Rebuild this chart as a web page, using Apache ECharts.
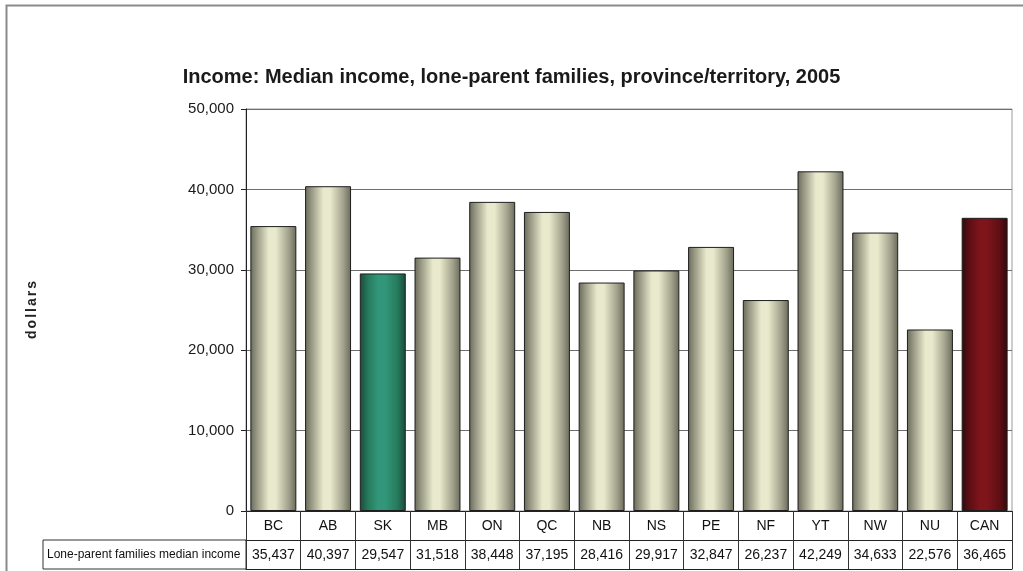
<!DOCTYPE html>
<html>
<head>
<meta charset="utf-8">
<style>
  html, body { margin: 0; padding: 0; background: #ffffff; }
  #chart { width: 1023px; height: 571px; }
</style>
<script src="https://cdn.jsdelivr.net/npm/echarts@6/dist/echarts.min.js"></script>
</head>
<body>
<div id="chart"></div>
<script>
// Provinces / territories and Canada
const categories = ['BC', 'AB', 'SK', 'MB', 'ON', 'QC', 'NB', 'NS', 'PE', 'NF', 'YT', 'NW', 'NU', 'CAN'];
// Lone-parent families median income, 2005 (dollars)
const medianIncome = [35437, 40397, 29547, 31518, 38448, 37195, 28416, 29917, 32847, 26237, 42249, 34633, 22576, 36465];
const yTicks = [0, 10000, 20000, 30000, 40000, 50000];
const seriesName = 'Lone-parent families median income';
const axisTitle = 'dollars';
const highlight = { SK: 'green', CAN: 'red' };

const SANS = "'Liberation Sans', Arial, sans-serif";

function fmt(v) { return v.toLocaleString('en-US'); }

// horizontal shading that gives the bars a rounded, cylinder-like look
function cylinder(edge, mid, light) {
  return new echarts.graphic.LinearGradient(0, 0, 1, 0, [
    { offset: 0, color: edge },
    { offset: 0.18, color: mid },
    { offset: 0.4, color: light },
    { offset: 0.55, color: light },
    { offset: 0.82, color: mid },
    { offset: 1, color: edge }
  ]);
}
const fills = {
  base: cylinder('#6a6a5b', '#a5a58f', '#e9e9cd'),
  green: cylinder('#1a4a39', '#267a5c', '#32977a'),
  red: cylinder('#33090b', '#5e0f14', '#7e151b')
};

// spaced-out lettering for the vertical axis title
const spacedTitle = axisTitle.split('').map(ch => '{s|' + ch + '}').join('');

const chart = echarts.init(document.getElementById('chart'), null, { renderer: 'canvas' });

const gridLeft = 246, gridRight = 11, gridTop = 109, gridBottom = 60;
const rowH = 29;

chart.setOption({
  animation: false,
  backgroundColor: '#ffffff',
  title: {
    text: 'Income: Median income, lone-parent families, province/territory, 2005',
    left: 'center',
    top: 62,
    textStyle: { fontFamily: SANS, fontSize: 20, fontWeight: 'bold', color: '#1a1a1a' }
  },
  grid: {
    left: gridLeft, right: gridRight, top: gridTop, bottom: gridBottom,
    show: true, borderColor: '#9a9a9a', borderWidth: 1, backgroundColor: 'transparent'
  },
  xAxis: [
    {
      type: 'category', data: categories, position: 'bottom',
      axisLine: { show: true, lineStyle: { color: '#222', width: 1 } },
      axisTick: { show: true, interval: 0, length: rowH, lineStyle: { color: '#333' } },
      axisLabel: { interval: 0, margin: 8, fontFamily: SANS, fontSize: 14, color: '#111' }
    },
    {
      type: 'category', data: medianIncome.map(fmt), position: 'bottom', offset: rowH,
      axisLine: { show: true, lineStyle: { color: '#222', width: 1 } },
      axisTick: { show: true, interval: 0, length: rowH, lineStyle: { color: '#333' } },
      axisLabel: { interval: 0, margin: 8, fontFamily: SANS, fontSize: 14, color: '#111' }
    },
    {
      type: 'category', data: categories, position: 'bottom', offset: rowH * 2,
      axisLine: { show: true, lineStyle: { color: '#222', width: 1 } },
      axisTick: { show: false }, axisLabel: { show: false }
    }
  ],
  yAxis: {
    type: 'value', min: yTicks[0], max: yTicks[yTicks.length - 1], interval: 10000,
    name: spacedTitle, nameLocation: 'middle', nameRotate: 90, nameGap: 207,
    nameTextStyle: {
      rich: { s: { fontFamily: SANS, fontSize: 14, fontWeight: 'bold', color: '#222', padding: [0, 1, 0, 1] } }
    },
    axisLine: { show: true, lineStyle: { color: '#222', width: 1 } },
    axisTick: { show: true, length: 5, lineStyle: { color: '#222' } },
    axisLabel: { margin: 12, fontFamily: SANS, fontSize: 15, color: '#1a1a1a', formatter: v => fmt(v) },
    splitLine: { show: true, lineStyle: { color: '#6e6e6e', width: 1 } }
  },
  series: [{
    type: 'bar',
    name: seriesName,
    xAxisIndex: 0,
    barCategoryGap: '16%',
    data: medianIncome.map((v, i) => ({
      value: v,
      itemStyle: { color: fills[highlight[categories[i]] || 'base'] }
    })),
    itemStyle: { borderColor: '#1e1e1e', borderWidth: 1 }
  }],
  graphic: [
    {
      type: 'rect', left: 4, top: 3, silent: true,
      shape: { x: 0, y: 0, width: 1040, height: 600 },
      style: { fill: 'none', stroke: '#8a8a8a', lineWidth: 2 }
    },
    {
      type: 'rect', silent: true,
      shape: { x: 43, y: 571 - gridBottom + rowH, width: gridLeft - 43, height: rowH },
      style: { fill: 'none', stroke: '#333', lineWidth: 1 }
    },
    {
      type: 'text', silent: true,
      x: 47, y: 571 - gridBottom + rowH + rowH / 2,
      style: { text: seriesName, fontFamily: SANS, fontSize: 12, fill: '#111', textVerticalAlign: 'middle' }
    }
  ]
});
</script>
</body>
</html>
